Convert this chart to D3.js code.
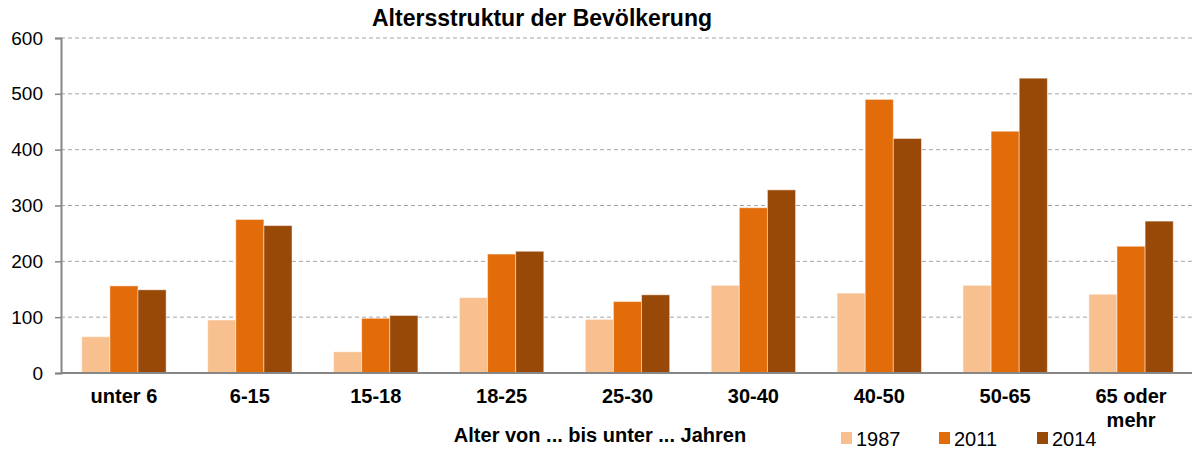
<!DOCTYPE html>
<html lang="de">
<head>
<meta charset="utf-8" />
<script src="https://d3js.org/d3.v7.min.js"></script>
<title>Altersstruktur der Bevölkerung</title>
<style>
    body { margin: 0; background: #fff; }
    text { font-family: "Liberation Sans", Arial, sans-serif; fill: #000; }
</style>
</head>
<body>
<div id="chart"></div>
<script>
// Daten
var categories = ["unter 6", "6-15", "15-18", "18-25", "25-30", "30-40", "40-50", "50-65", "65 oder mehr"];
var years = ["1987", "2011", "2014"];
var values1987 = [65, 95, 38, 135, 96, 157, 143, 157, 141];
var values2011 = [156, 275, 98, 213, 128, 296, 490, 433, 227];
var values2014 = [149, 264, 103, 218, 140, 328, 420, 528, 272];
var yTicks = [0, 100, 200, 300, 400, 500, 600];
var colors = ["#F9C08F", "#E36C0A", "#984807"];

var series = [values1987, values2011, values2014];

var width = 1192, height = 450;
var plotLeft = 61, plotRight = 1194, plotTop = 38, plotBottom = 373;

var svg = d3.select("#chart").append("svg")
    .attr("width", width)
    .attr("height", height);

var x0 = d3.scaleBand()
    .domain(categories)
    .range([plotLeft, plotRight])
    .paddingInner(0.33)
    .paddingOuter(0.165);

var x1 = d3.scaleBand()
    .domain(years)
    .range([0, x0.bandwidth()]);

var y = d3.scaleLinear()
    .domain([0, 600])
    .range([plotBottom, plotTop]);

// Gitternetz
svg.append("g")
    .selectAll("line")
    .data(yTicks.filter(function(d) { return d > 0; }))
    .enter().append("line")
    .attr("x1", plotLeft)
    .attr("x2", width)
    .attr("y1", function(d) { return y(d); })
    .attr("y2", function(d) { return y(d); })
    .attr("stroke", "#A6A6A6")
    .attr("stroke-width", 1)
    .attr("stroke-dasharray", "4,3");

// Balken
var groups = svg.append("g")
    .selectAll("g")
    .data(categories)
    .enter().append("g")
    .attr("transform", function(d) { return "translate(" + x0(d) + ",0)"; });

groups.selectAll("rect")
    .data(function(d, i) {
        return years.map(function(yr, k) { return { year: yr, value: series[k][i], k: k }; });
    })
    .enter().append("rect")
    .attr("x", function(d) { return x1(d.year); })
    .attr("y", function(d) { return y(d.value); })
    .attr("width", x1.bandwidth())
    .attr("height", function(d) { return y(0) - y(d.value); })
    .attr("fill", function(d) { return colors[d.k]; })
    .attr("stroke", "rgba(255,255,255,0.45)")
    .attr("stroke-width", 1);

// y-Achse
var yAxis = svg.append("g")
    .attr("transform", "translate(" + plotLeft + ",0)")
    .call(d3.axisLeft(y).tickValues(yTicks).tickSize(6).tickPadding(12));
yAxis.select(".domain").attr("stroke", "#868686").attr("stroke-width", 2);
yAxis.selectAll(".tick line").attr("stroke", "#868686").attr("stroke-width", 1.5);
yAxis.selectAll(".tick text")
    .style("font-family", "'Liberation Sans', Arial, sans-serif")
    .style("font-size", "19px")
    .attr("fill", "#000");

// x-Achse
svg.append("line")
    .attr("x1", plotLeft)
    .attr("x2", width)
    .attr("y1", y(0))
    .attr("y2", y(0))
    .attr("stroke", "#868686")
    .attr("stroke-width", 2);

var labels = svg.append("g")
    .selectAll("text")
    .data(categories)
    .enter().append("text")
    .attr("x", function(d) { return x0(d) + x0.bandwidth() / 2; })
    .attr("y", 403)
    .attr("text-anchor", "middle")
    .style("font-size", "20px")
    .style("font-weight", "bold");

labels.each(function(d) {
    var t = d3.select(this);
    var parts = d === "65 oder mehr" ? ["65 oder", "mehr"] : [d];
    parts.forEach(function(p, i) {
        t.append("tspan")
            .attr("x", x0(d) + x0.bandwidth() / 2)
            .attr("dy", i === 0 ? 0 : 24)
            .text(p);
    });
});

// Titel
svg.append("text")
    .attr("x", 542)
    .attr("y", 26)
    .attr("text-anchor", "middle")
    .style("font-size", "23px")
    .style("font-weight", "bold")
    .text("Altersstruktur der Bevölkerung");

svg.append("text")
    .attr("x", 600)
    .attr("y", 442)
    .attr("text-anchor", "middle")
    .style("font-size", "20px")
    .style("font-weight", "bold")
    .text("Alter von ... bis unter ... Jahren");

// Legende
var legendX = [841, 939, 1037];
var legend = svg.append("g")
    .selectAll("g")
    .data(years)
    .enter().append("g")
    .attr("transform", function(d, i) { return "translate(" + legendX[i] + ",432)"; });

legend.append("rect")
    .attr("width", 11)
    .attr("height", 12)
    .attr("fill", function(d, i) { return colors[i]; });

legend.append("text")
    .attr("x", 15)
    .attr("y", 14)
    .style("font-size", "20px")
    .text(function(d) { return d; });
</script>
</body>
</html>
